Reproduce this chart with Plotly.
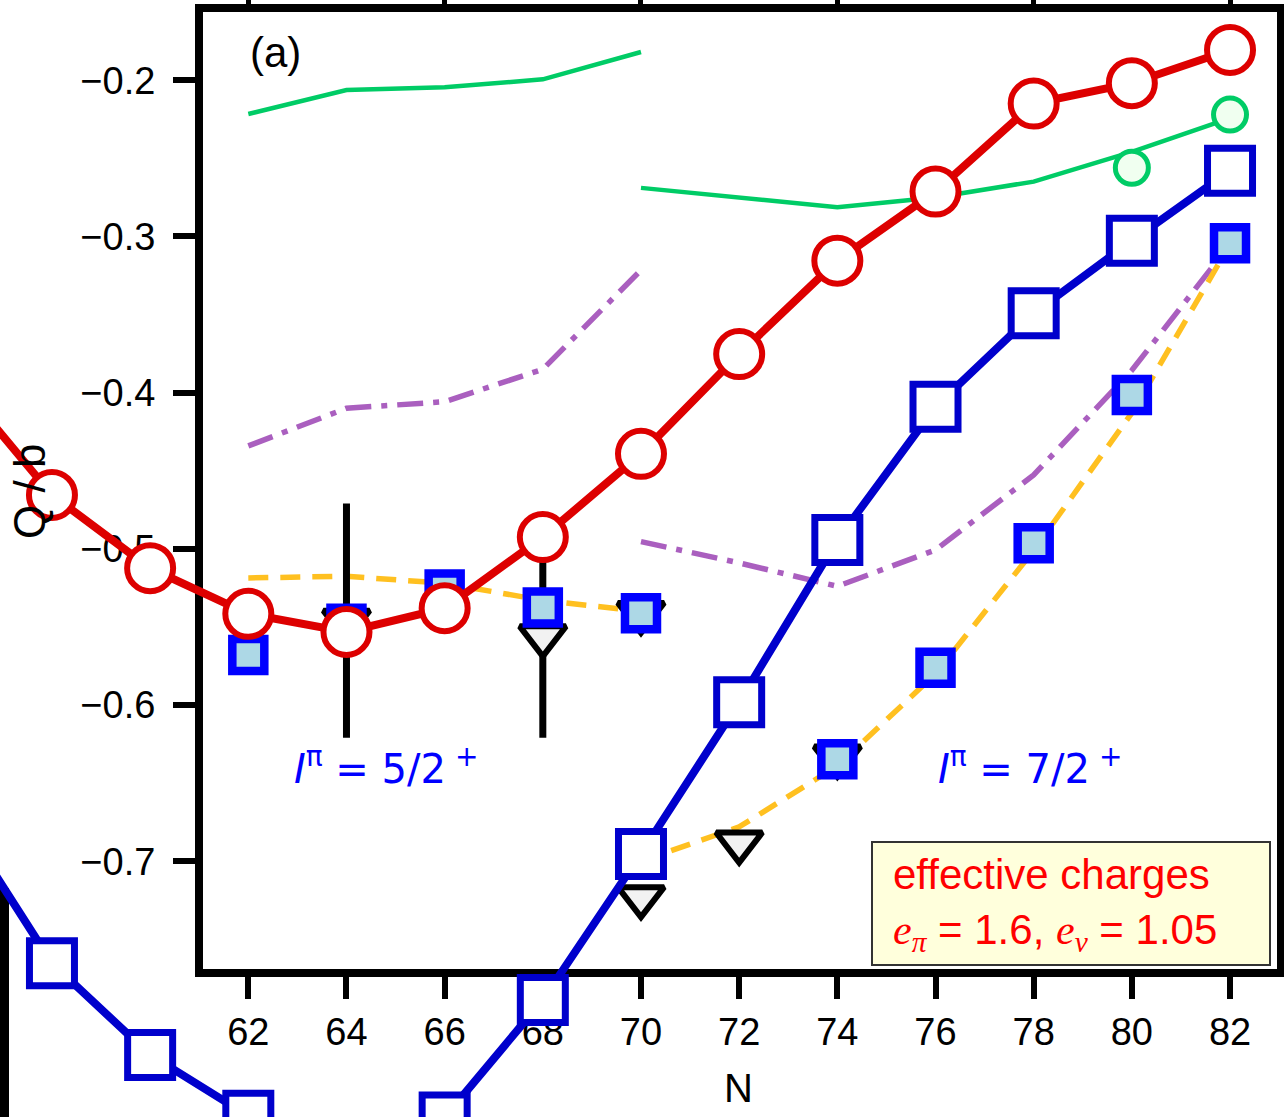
import plotly.graph_objects as go

W, H = 1284, 1117

# ---------------- data ----------------
N_full = [56, 58, 60, 62, 64, 66, 68, 70, 72, 74, 76, 78, 80, 82]
Q_red = [-0.390, -0.4655, -0.5124, -0.5416, -0.5532, -0.5380, -0.4925, -0.4392,
         -0.3753, -0.3155, -0.2713, -0.2149, -0.2019, -0.1806]
Q_blue = [-0.667, -0.7653, -0.824, -0.863, -0.905, -0.864, -0.7888, -0.6953,
          -0.5982, -0.4944, -0.409, -0.3492, -0.3027, -0.2579]

N_52 = [62, 64, 66, 68, 70]
green_52 = [-0.2216, -0.2063, -0.2045, -0.1994, -0.1819]
purple_52 = [-0.4341, -0.410, -0.4058, -0.385, -0.3215]
orange_52 = [-0.5186, -0.5176, -0.522, -0.533, -0.540]

N_72 = [70, 72, 74, 76, 78, 80, 82]
green_72 = [-0.2689, -0.275, -0.2813, -0.275, -0.2649, -0.2459, -0.2242]
purple_72 = [-0.4954, -0.509, -0.524, -0.5007, -0.4527, -0.3857, -0.305]
orange_72 = [-0.700, -0.678, -0.639, -0.580, -0.501, -0.413, -0.305]

N_gpts = [80, 82]
Q_gpts = [-0.256, -0.222]

N_sq52 = [62, 64, 66, 68, 70]
Q_sq52 = [-0.568, -0.548, -0.526, -0.5376, -0.5413]
N_sq72 = [74, 76, 78, 80, 82]
Q_sq72 = [-0.6347, -0.5762, -0.4964, -0.4015, -0.3044]

N_tri52 = [64, 68, 70]
Q_tri52 = [-0.546, -0.556, -0.541]
E_tri52 = [0.075, 0.065, 0.0]
N_tri72 = [70, 72, 74]
Q_tri72 = [-0.723, -0.688, -0.633]

x_ticks = [62, 64, 66, 68, 70, 72, 74, 76, 78, 80, 82]
y_ticks = [-0.7, -0.6, -0.5, -0.4, -0.3, -0.2]
x_top_ticks = [62, 66, 70, 74, 78, 82]

# ---------------- geometry ----------------
L, R, T, B = 203, 1277, 12, 969
XR = [61.077, 82.957]
YR = [-0.769, -0.1563]
sx = (R - L) / (XR[1] - XR[0])
sy = (B - T) / (YR[1] - YR[0])
X2R = [XR[0] - L / sx, XR[1] + (W - R) / sx]
Y2R = [YR[0] - (H - B) / sy, YR[1] + T / sy]


def px(x):
    return x / W


def py(y):
    return 1 - y / H


SANS = "Liberation Sans, Arial, sans-serif"
RED = "#DD0000"
BLUE = "#0000CC"

fig = go.Figure()

# empty traces so that the framed axes (xy and top-tick axis) are drawn
fig.add_trace(go.Scatter(x=[], y=[], xaxis="x", yaxis="y", showlegend=False))
fig.add_trace(go.Scatter(x=[], y=[], xaxis="x3", yaxis="y", showlegend=False))

common = dict(xaxis="x2", yaxis="y2", showlegend=False, hoverinfo="skip")

# model curves (two segments each)
for xs, ys in [(N_52, green_52), (N_72, green_72)]:
    fig.add_trace(go.Scatter(x=xs, y=ys, mode="lines",
                             line=dict(color="#00CC66", width=4.5), **common))
for xs, ys in [(N_52, purple_52), (N_72, purple_72)]:
    fig.add_trace(go.Scatter(x=xs, y=ys, mode="lines",
                             line=dict(color="#AA5FBF", width=5.5, dash="26px,10px,6px,10px"),
                             **common))
for xs, ys in [(N_52, orange_52), (N_72, orange_72)]:
    fig.add_trace(go.Scatter(x=xs, y=ys, mode="lines",
                             line=dict(color="#FFC020", width=5.5, dash="20px,12px"),
                             **common))

# triangles (experiment) with error bars
fig.add_trace(go.Scatter(x=N_tri52, y=Q_tri52, mode="markers",
                         marker=dict(symbol="triangle-down", size=40, color="#F2F2F2",
                                     line=dict(color="black", width=6)),
                         error_y=dict(type="data", array=E_tri52, visible=True,
                                      color="black", thickness=7, width=0),
                         **common))
fig.add_trace(go.Scatter(x=N_tri72, y=Q_tri72, mode="markers",
                         marker=dict(symbol="triangle-down", size=40, color="#F2F2F2",
                                     line=dict(color="black", width=6)),
                         **common))

# light-blue squares
for xs, ys in [(N_sq52, Q_sq52), (N_sq72, Q_sq72)]:
    fig.add_trace(go.Scatter(x=xs, y=ys, mode="markers",
                             marker=dict(symbol="square", size=32, color="#ADD8E6",
                                         line=dict(color="#0000FF", width=8.5)),
                             **common))

# green circles
fig.add_trace(go.Scatter(x=N_gpts, y=Q_gpts, mode="markers",
                         marker=dict(symbol="circle", size=33, color="#F0FFF0",
                                     line=dict(color="#00CC66", width=5)),
                         **common))

# blue squares line
fig.add_trace(go.Scatter(x=N_full, y=Q_blue, mode="lines+markers",
                         line=dict(color=BLUE, width=8),
                         marker=dict(symbol="square", size=45, color="white",
                                     line=dict(color=BLUE, width=7)),
                         **common))
# red circles line
fig.add_trace(go.Scatter(x=N_full, y=Q_red, mode="lines+markers",
                         line=dict(color=RED, width=8),
                         marker=dict(symbol="circle", size=46, color="white",
                                     line=dict(color=RED, width=6)),
                         **common))

axis_common = dict(showline=True, linewidth=8, linecolor="black", mirror=True,
                   ticks="outside", ticklen=22, tickwidth=6, tickcolor="black",
                   showgrid=False, zeroline=False,
                   tickfont=dict(family=SANS, size=38, color="black"))

fig.update_layout(
    width=W, height=H,
    margin=dict(l=0, r=0, t=0, b=0),
    paper_bgcolor="white", plot_bgcolor="rgba(0,0,0,0)",
    xaxis=dict(domain=[px(L), px(R)], range=XR, anchor="y", tickvals=x_ticks,
               **axis_common),
    yaxis=dict(domain=[py(B), py(T)], range=YR, anchor="x", tickvals=y_ticks,
               tickformat=".1f", ticklabelstandoff=10, **axis_common),
    xaxis3=dict(overlaying="x", side="top", range=XR, anchor="y", tickvals=x_top_ticks,
                ticks="outside", ticklen=12, tickwidth=5, tickcolor="black",
                showticklabels=False, showline=False, showgrid=False, zeroline=False),
    xaxis2=dict(domain=[0, 1], range=X2R, anchor="y2", visible=False, fixedrange=True),
    yaxis2=dict(domain=[0, 1], range=Y2R, anchor="x2", visible=False, fixedrange=True),
)

fig.add_shape(type="rect", xref="paper", yref="paper",
              x0=px(872), x1=px(1270), y0=py(965), y1=py(842),
              fillcolor="#FFFFDC", line=dict(color="#333333", width=2), layer="above")
fig.add_shape(type="line", xref="paper", yref="paper",
              x0=px(4.5), x1=px(4.5), y0=py(888), y1=0,
              line=dict(color="black", width=9), layer="below")

serif_e = "<span style='font-family:Liberation Serif'><i>e</i><sub><i>{}</i></sub></span>"
box_text = ("effective charges<br>" + serif_e.format("π") + " = 1.6, "
            + serif_e.format("ν") + " = 1.05")

annos = [
    dict(text="(a)", x=px(275), y=py(53), font=dict(family=SANS, size=42, color="black")),
    dict(text="<i>I</i><sup>π</sup> = 5/2<sup> +</sup>", x=px(386), y=py(766),
         font=dict(family="DejaVu Sans", size=40, color="#0000FF")),
    dict(text="<i>I</i><sup>π</sup> = 7/2<sup> +</sup>", x=px(1030), y=py(766),
         font=dict(family="DejaVu Sans", size=40, color="#0000FF")),
    dict(text=box_text, x=px(891), y=py(904), xanchor="left", align="left",
         font=dict(family=SANS, size=42, color="#FF0000")),
    dict(text="Q / b", x=px(29), y=py(492), textangle=-90,
         font=dict(family=SANS, size=44, color="black")),
    dict(text="N", x=px(738), y=py(1088), font=dict(family=SANS, size=40, color="black")),
]
for a in annos:
    a.setdefault("xanchor", "center")
    fig.add_annotation(xref="paper", yref="paper", yanchor="middle", showarrow=False, **a)

fig.write_html("out.html")
